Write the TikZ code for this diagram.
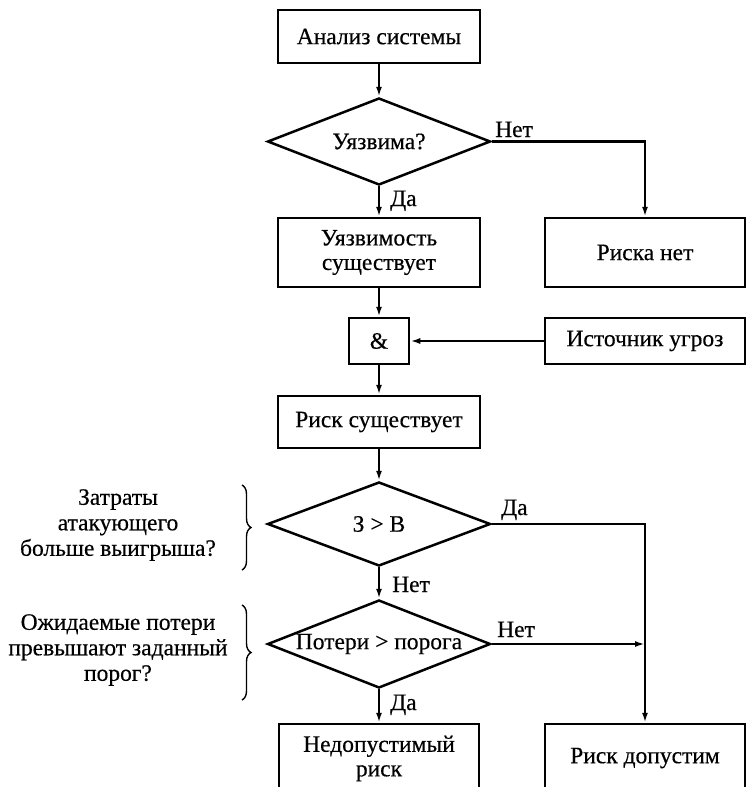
\documentclass[tikz,border=0pt]{standalone}
\usepackage{fontspec}
\setmainfont{Liberation Serif}[FakeBold=0.4]
\usetikzlibrary{arrows.meta,decorations.pathreplacing,shapes.geometric}
\newcommand\myfsz{\fontsize{23.5}{24.5}\selectfont}
\begin{document}
\begin{tikzpicture}[x=1pt,y=-1pt,
  every node/.style={font=\myfsz},
  box/.style={draw,line width=2.5pt,minimum width=202pt,inner sep=0pt,align=center},
  dia/.style={draw,shape=diamond,line width=2.5pt,minimum width=223pt,inner sep=0pt},
  conn/.style={line width=2.3pt,-{Latex[length=10pt,width=6pt]}},
  lbl/.style={inner sep=0pt,anchor=base west},
  side/.style={align=center,inner sep=0pt,font=\fontsize{23.5}{25.5}\selectfont},
  brc/.style={line width=1.4pt,decorate,decoration={brace,amplitude=9pt}}
]
\useasboundingbox (0,0) rectangle (747,787);
\clip (0,0) rectangle (747,787);

\node[box,minimum height=53pt] (A) at (379,36.5) {Анализ системы};
\node[dia,minimum height=87pt,label=center:{Уязвима?}] (D1) at (379,141.5) {};
\node[box,minimum height=69pt] (B) at (379,252.5) {Уязвимость\\существует};
\node[box,minimum width=200pt,minimum height=69pt] (N1) at (645,252.5) {Риска нет};
\node[box,minimum width=60pt,minimum height=46pt] (AND) at (379,341) {\&};
\node[box,minimum width=200pt,minimum height=46pt] (S) at (645,341) {Источник угроз};
\node[box,minimum height=52pt] (R) at (379,422) {Риск существует};
\node[dia,minimum height=84pt,label=center:{З > В}] (D2) at (379,524) {};
\node[dia,minimum height=88pt,label=center:{Потери > порога}] (D3) at (379,644) {};
\node[box,minimum width=200pt,minimum height=69pt] (U) at (379,758.5) {Недопустимый\\риск};
\node[box,minimum width=200pt,minimum height=69pt] (P) at (645,758.5) {\raisebox{6pt}{Риск допустим}};

\draw[conn] (A) -- (D1);
\draw[conn] (D1) -- (B);
\draw[conn] (D1.east) -| (N1.north);
\draw[conn] (B) -- (AND);
\draw[conn] (S) -- (AND);
\draw[conn] (AND) -- (R);
\draw[conn] (R) -- (D2);
\draw[conn] (D2) -- (D3);
\draw[conn] (D2.east) -| (P.north);
\draw[conn] (D3.east) -- (D3.east -| P.north);
\draw[conn] (D3) -- (U);

\node[lbl] (l1) at (495,137) {Нет};
\node[lbl] (l2) at (390,206) {Да};
\node[lbl] (l3) at (501,515) {Да};
\node[lbl] (l4) at (392,592) {Нет};
\node[lbl] (l5) at (497,637) {Нет};
\node[lbl] (l6) at (390,710) {Да};

\node[side] (t1) at (118,525) {Затраты\\атакующего\\больше выигрыша?};
\node[side] (t2) at (118,650) {Ожидаемые потери\\превышают заданный\\порог?};
\draw[brc] (242,485) -- (242,570);
\draw[brc] (242,605) -- (242,700);
\end{tikzpicture}
\end{document}
